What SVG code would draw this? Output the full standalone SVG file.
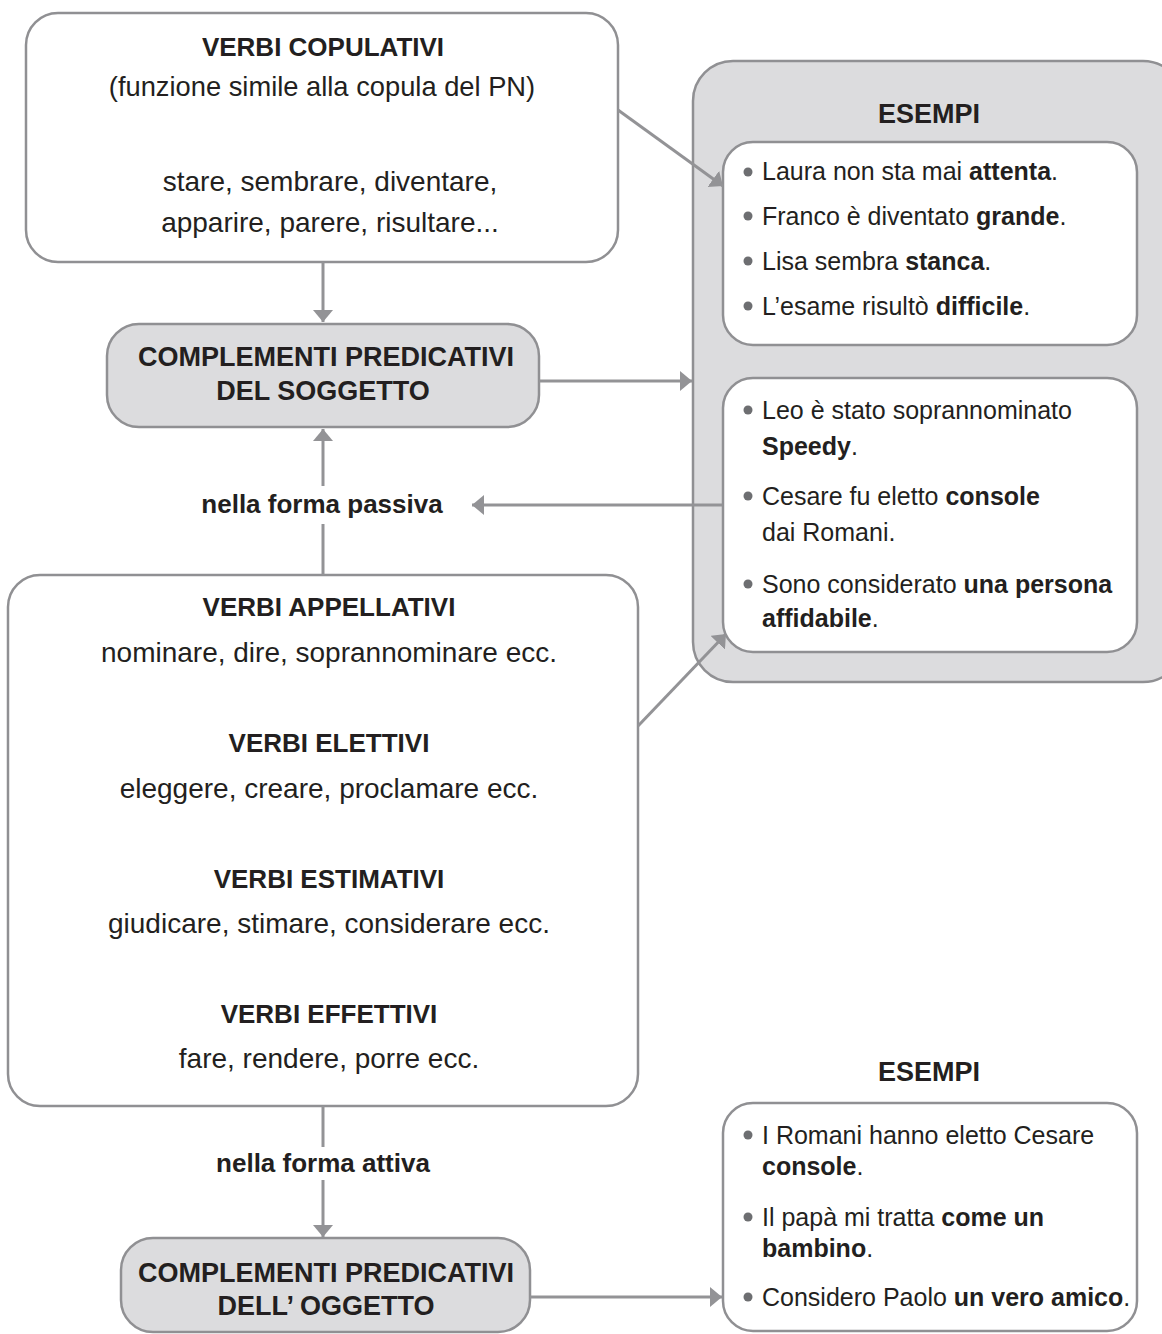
<svg xmlns="http://www.w3.org/2000/svg" width="1162" height="1334" viewBox="0 0 1162 1334">
<style>
text{font-family:"Liberation Sans",Arial,sans-serif;fill:#231f20}
.h{font-weight:bold;font-size:26px}
.p{font-size:27px}
.hc{text-anchor:middle}
.l{font-size:28px;text-anchor:middle}
.r{font-size:25px}
.b{font-weight:bold}
.box{fill:#fff;stroke:#909093;stroke-width:2.5}
.gbox{fill:#dcdcde;stroke:#909093;stroke-width:2.5}
.con{stroke:#939396;stroke-width:3;fill:none}
.dot{fill:#6d6e71}
</style>
<defs>
<marker id="ah" markerUnits="userSpaceOnUse" markerWidth="14" markerHeight="22" refX="12" refY="10" orient="auto">
<path d="M0,0 L12,10 L0,20 z" fill="#939396"/>
</marker>
</defs>
<g id="esempi1">
<rect class="gbox" x="693" y="61" width="490" height="621" rx="40"/>
<text class="h p hc" x="929" y="123">ESEMPI</text>
</g>
<g id="ex1">
<rect class="box" x="723" y="142" width="414" height="203" rx="30"/>
<circle class="dot" cx="748" cy="172" r="4.5"/>
<text class="r" x="762" y="180">Laura non sta mai <tspan class="b">attenta</tspan>.</text>
<circle class="dot" cx="748" cy="216" r="4.5"/>
<text class="r" x="762" y="225">Franco è diventato <tspan class="b">grande</tspan>.</text>
<circle class="dot" cx="748" cy="261" r="4.5"/>
<text class="r" x="762" y="270">Lisa sembra <tspan class="b">stanca</tspan>.</text>
<circle class="dot" cx="748" cy="306" r="4.5"/>
<text class="r" x="762" y="315">L’esame risultò <tspan class="b">difficile</tspan>.</text>
</g>
<g id="ex2">
<rect class="box" x="723" y="378" width="414" height="274" rx="30"/>
<circle class="dot" cx="748" cy="410" r="4.5"/>
<text class="r" x="762" y="419">Leo è stato soprannominato</text>
<text class="r b" x="762" y="455">Speedy<tspan font-weight="normal">.</tspan></text>
<circle class="dot" cx="748" cy="496" r="4.5"/>
<text class="r" x="762" y="505">Cesare fu eletto <tspan class="b">console</tspan></text>
<text class="r" x="762" y="541">dai Romani.</text>
<circle class="dot" cx="748" cy="584" r="4.5"/>
<text class="r" x="762" y="593">Sono considerato <tspan class="b">una persona</tspan></text>
<text class="r b" x="762" y="627">affidabile<tspan font-weight="normal">.</tspan></text>
</g>
<g id="copulativi">
<rect class="box" x="26" y="13" width="592" height="249" rx="32"/>
<text class="h hc" x="323" y="56">VERBI COPULATIVI</text>
<text class="l" x="322" y="96" style="font-size:27.3px">(funzione simile alla copula del PN)</text>
<text class="l" x="330" y="191">stare, sembrare, diventare,</text>
<text class="l" x="330" y="232">apparire, parere, risultare...</text>
</g>
<g id="pred-soggetto">
<rect class="gbox" x="107" y="324" width="432" height="103" rx="32"/>
<text class="h p hc" x="326" y="366">COMPLEMENTI PREDICATIVI</text>
<text class="h p hc" x="323" y="400">DEL SOGGETTO</text>
</g>
<g id="verbi">
<rect class="box" x="8" y="575" width="630" height="531" rx="32"/>
<text class="h hc" x="329" y="616">VERBI APPELLATIVI</text>
<text class="l" x="329" y="662">nominare, dire, soprannominare ecc.</text>
<text class="h hc" x="329" y="752">VERBI ELETTIVI</text>
<text class="l" x="329" y="798">eleggere, creare, proclamare ecc.</text>
<text class="h hc" x="329" y="888">VERBI ESTIMATIVI</text>
<text class="l" x="329" y="933">giudicare, stimare, considerare ecc.</text>
<text class="h hc" x="329" y="1023">VERBI EFFETTIVI</text>
<text class="l" x="329" y="1068">fare, rendere, porre ecc.</text>
</g>
<g id="pred-oggetto">
<rect class="gbox" x="121" y="1238" width="409" height="94" rx="32"/>
<text class="h p hc" x="326" y="1282">COMPLEMENTI PREDICATIVI</text>
<text class="h p hc" x="326" y="1315">DELL’ OGGETTO</text>
</g>
<g id="esempi2">
<text class="h p hc" x="929" y="1081">ESEMPI</text>
<rect class="box" x="723" y="1103" width="414" height="228" rx="30"/>
<circle class="dot" cx="748" cy="1135" r="4.5"/>
<text class="r" x="762" y="1144">I Romani hanno eletto Cesare</text>
<text class="r b" x="762" y="1175">console<tspan font-weight="normal">.</tspan></text>
<circle class="dot" cx="748" cy="1217" r="4.5"/>
<text class="r" x="762" y="1226">Il papà mi tratta <tspan class="b">come un</tspan></text>
<text class="r b" x="762" y="1257">bambino<tspan font-weight="normal">.</tspan></text>
<circle class="dot" cx="748" cy="1297" r="4.5"/>
<text class="r" x="762" y="1306">Considero Paolo <tspan class="b">un vero amico</tspan>.</text>
</g>
<g id="labels">
<text class="h hc" x="322" y="513">nella forma passiva</text>
<text class="h hc" x="323" y="1172">nella forma attiva</text>
</g>
<g id="connectors">
<line class="con" x1="323" y1="262" x2="323" y2="322" marker-end="url(#ah)"/>
<line class="con" x1="539" y1="381" x2="692" y2="381" marker-end="url(#ah)"/>
<line class="con" x1="323" y1="575" x2="323" y2="524"/>
<line class="con" x1="323" y1="486" x2="323" y2="429" marker-end="url(#ah)"/>
<line class="con" x1="722" y1="505" x2="472" y2="505" marker-end="url(#ah)"/>
<line class="con" x1="618" y1="110" x2="723" y2="186" marker-end="url(#ah)"/>
<line class="con" x1="638" y1="726" x2="726" y2="634" marker-end="url(#ah)"/>
<line class="con" x1="323" y1="1106" x2="323" y2="1147"/>
<line class="con" x1="323" y1="1180" x2="323" y2="1237" marker-end="url(#ah)"/>
<line class="con" x1="530" y1="1297" x2="722" y2="1297" marker-end="url(#ah)"/>
</g>
</svg>
